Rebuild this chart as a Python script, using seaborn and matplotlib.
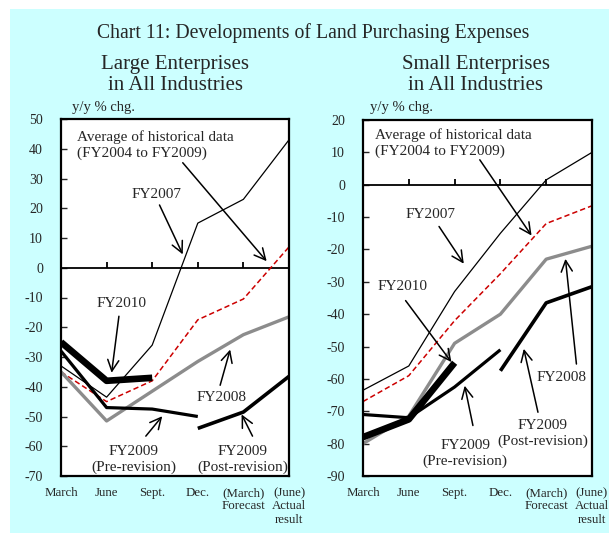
import matplotlib
matplotlib.use("Agg")
import matplotlib.pyplot as plt
import matplotlib.patches as mpatches
import seaborn as sns
import pandas as pd
import numpy as np

# ---------------- data ----------------
categories = ["March", "June", "Sept.", "Dec.", "(March)\nForecast", "(June)\nActual\nresult"]

large_fy2007 = [-33, -43.5, -26, 15, 23, 43]
large_avg = [-35, -45, -38, -17.5, -10.5, 7]
large_fy2008 = [-35, -51.5, -41.5, -31.5, -22.5, -16.5]
large_fy2010 = [-25, -38, -37]
large_fy2009_pre = [-28, -47, -47.5, -50]
large_fy2009_post = [-54, -48.5, -36.5]

small_fy2007 = [-63.5, -56, -33, -15, 1.5, 10]
small_avg = [-67, -59, -42, -27.5, -12, -6.5]
small_fy2008 = [-80, -71.5, -49, -40, -23, -19]
small_fy2010 = [-78, -72.5, -55]
small_fy2009_pre = [-71, -72, -62.5, -51]
small_fy2009_post = [-57.5, -36.5, -31.5]

large_yticks = list(range(50, -80, -10))
small_yticks = list(range(20, -100, -10))

# ---------------- style ----------------
sns.set_style("white")
plt.rcParams["font.family"] = ["Liberation Serif", "DejaVu Serif"]
plt.rcParams["mathtext.default"] = "regular"

BG = "#CCFFFF"
fig = plt.figure(figsize=(6.09, 5.33), dpi=100)
fig.patch.set_facecolor("white")
fig.patches.append(mpatches.Rectangle((10 / 609, 0), 1, (533 - 9) / 533,
                                      transform=fig.transFigure, facecolor=BG,
                                      edgecolor="none", zorder=-10))

ax1 = fig.add_axes([61 / 609, 1 - 476 / 533, 228 / 609, 357 / 533])
ax2 = fig.add_axes([363 / 609, 1 - 476 / 533, 229 / 609, 356 / 533])

styles = {
    "fy2007": dict(color="black", linewidth=0.9),
    "avg": dict(color="#CC0000", linewidth=1.1, linestyle=(0, (3.5, 2))),
    "fy2008": dict(color="#8C8C8C", linewidth=2.4),
    "fy2010": dict(color="black", linewidth=4.8),
    "fy2009_pre": dict(color="black", linewidth=2.3),
    "fy2009_post": dict(color="black", linewidth=2.6),
}


def draw(ax, series, yticks, ylim):
    for key, (start, vals) in series.items():
        xs = list(range(start, start + len(vals)))
        sns.lineplot(x=xs, y=vals, ax=ax, sort=False, legend=False,
                     solid_capstyle="butt", **styles[key])
    ax.set_xlim(0, len(categories) - 1)
    ax.set_ylim(*ylim)
    ax.set_yticks(yticks)
    ax.set_yticklabels([str(t) for t in yticks])
    ax.set_xticks(range(len(categories)))
    ax.set_xticklabels(categories, fontsize=9.3, linespacing=1.15)
    ax.tick_params(axis="x", length=0, pad=8)
    ax.tick_params(axis="y", direction="in", length=4, width=1.0,
                   labelsize=10, pad=13, left=True)
    ax.axhline(0, color="black", linewidth=1.3, zorder=1)
    xs_mid = list(range(1, len(categories) - 1))
    ax.plot(xs_mid, [0] * len(xs_mid), linestyle="", marker=2, markersize=4,
            markeredgewidth=1.3, color="black")
    for s in ax.spines.values():
        s.set_visible(True)
        s.set_color("black")
        s.set_linewidth(1.6)
    ax.set_facecolor("white")
    ax.set_xlabel("")
    ax.set_ylabel("")
    ax.grid(False)


draw(ax1, {
    "avg": (0, large_avg),
    "fy2007": (0, large_fy2007),
    "fy2008": (0, large_fy2008),
    "fy2009_pre": (0, large_fy2009_pre),
    "fy2009_post": (3, large_fy2009_post),
    "fy2010": (0, large_fy2010),
}, large_yticks, (-70, 50))

draw(ax2, {
    "avg": (0, small_avg),
    "fy2007": (0, small_fy2007),
    "fy2008": (0, small_fy2008),
    "fy2009_pre": (0, small_fy2009_pre),
    "fy2009_post": (3, small_fy2009_post),
    "fy2010": (0, small_fy2010),
}, small_yticks, (-90, 20))

AFS = 11
arrow = dict(arrowstyle="->,head_length=0.8,head_width=0.4", color="black",
             linewidth=1.1, shrinkA=0, shrinkB=0)


def label(ax, text, xy, ha="center"):
    ax.text(xy[0], xy[1], text, fontsize=AFS, ha=ha, va="center",
            linespacing=1.25)


def arr(ax, start, end):
    ax.annotate("", xy=end, xytext=start, arrowprops=arrow)


# Large enterprises annotations
ax1.text(0.36, 46.2, "Average of historical data\n(FY2004 to FY2009)",
         fontsize=AFS, ha="left", va="top", linespacing=1.25)
arr(ax1, (2.67, 35.3), (4.51, 2.2))
label(ax1, "FY2007", (2.1, 24.7))
arr(ax1, (2.16, 21.1), (2.67, 4.5))
label(ax1, "FY2010", (1.33, -12.1))
arr(ax1, (1.27, -16.3), (1.11, -35.3))
label(ax1, "FY2008", (3.52, -43.7))
arr(ax1, (3.49, -39.5), (3.71, -27.5))
label(ax1, "FY2009\n(Pre-revision)", (1.59, -64.3))
arr(ax1, (1.86, -56.6), (2.22, -49.9))
label(ax1, "FY2009\n(Post-revision)", (3.98, -64.3))
arr(ax1, (4.2, -56.6), (3.96, -49.3))

# Small enterprises annotations
ax2.text(0.27, 17.4, "Average of historical data\n(FY2004 to FY2009)",
         fontsize=AFS, ha="left", va="top", linespacing=1.25)
arr(ax2, (2.55, 7.7), (3.68, -15.7))
label(ax2, "FY2007", (1.48, -9.3))
arr(ax2, (1.66, -12.9), (2.2, -24.4))
label(ax2, "FY2010", (0.87, -31.3))
arr(ax2, (0.93, -35.8), (1.93, -54.8))
label(ax2, "FY2008", (4.33, -59.7))
arr(ax2, (4.66, -55.4), (4.42, -22.9))
label(ax2, "FY2009\n(Post-revision)", (3.93, -77.0))
arr(ax2, (3.82, -70.3), (3.51, -50.7))
label(ax2, "FY2009\n(Pre-revision)", (2.23, -83.0))
arr(ax2, (2.4, -74.4), (2.22, -62.1))

# y-axis unit labels
fig.text(72 / 609, 1 - 111 / 533, "y/y % chg.", fontsize=10.5, ha="left", va="baseline")
fig.text(370 / 609, 1 - 111 / 533, "y/y % chg.", fontsize=10.5, ha="left", va="baseline")

# Titles
fig.text(313 / 609, 1 - 38 / 533, "Chart 11: Developments of Land Purchasing Expenses",
         fontsize=14.2, ha="center", va="baseline")
for cx, first in [(175, "Large Enterprises"), (476, "Small Enterprises")]:
    fig.text(cx / 609, 1 - 69 / 533, first, fontsize=15, ha="center", va="baseline")
    fig.text(cx / 609, 1 - 90 / 533, "in All Industries", fontsize=15,
             ha="center", va="baseline")

fig.savefig("out.png", dpi=100, facecolor=fig.get_facecolor())
